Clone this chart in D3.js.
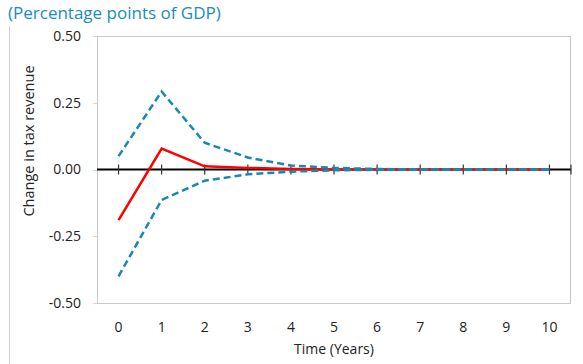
<!DOCTYPE html>
<html>
<head>
<meta charset="utf-8">
<script src="https://cdn.jsdelivr.net/npm/d3@7"></script>
<style>
  body { margin: 0; background: #fff; }
  text { font-family: "Open Sans", "Noto Sans", sans-serif; }
</style>
</head>
<body>
<div id="chart"></div>
<script>
const years = [0, 1, 2, 3, 4, 5, 6, 7, 8, 9, 10];
const central = [-0.19, 0.078, 0.012, 0.006, 0.002, 0.0, 0.0, 0.0, 0.0, 0.0, 0.0];
const upper = [0.05, 0.292, 0.10, 0.045, 0.015, 0.006, 0.002, 0.0, 0.0, 0.0, 0.0];
const lower = [-0.40, -0.114, -0.042, -0.018, -0.008, -0.003, -0.001, 0.0, 0.0, 0.0, 0.0];
const yTicks = [0.5, 0.25, 0, -0.25, -0.5];

const W = 583, H = 364;
const margin = { top: 36, right: 12, bottom: 61, left: 97 };

const svg = d3.select("#chart").append("svg")
    .attr("width", W)
    .attr("height", H);

const x = d3.scaleLinear().domain([-0.5, 10.5]).range([margin.left, W - margin.right]);
const y = d3.scaleLinear().domain([-0.5, 0.5]).range([H - margin.bottom, margin.top]);

// outer frame line on the left
svg.append("line")
    .attr("x1", 9.5).attr("x2", 9.5)
    .attr("y1", 26).attr("y2", H)
    .attr("stroke", "#d0d0d0").attr("stroke-width", 1);

// plot area frame
svg.append("rect")
    .attr("x", margin.left + 0.5)
    .attr("y", margin.top + 0.5)
    .attr("width", W - margin.left - margin.right - 1)
    .attr("height", H - margin.top - margin.bottom)
    .attr("fill", "none")
    .attr("stroke", "#c8c8c8");

svg.append("text")
    .attr("x", 8).attr("y", 19)
    .attr("fill", "#1a8bbf")
    .style("font-size", "17px")
    .text("(Percentage points of GDP)");

// y axis labels
svg.selectAll(".ytick")
    .data(yTicks)
    .enter().append("text")
    .attr("class", "ytick")
    .attr("x", 81)
    .attr("y", d => y(d))
    .attr("dy", "0.35em")
    .attr("text-anchor", "end")
    .attr("fill", "#222")
    .style("font-size", "14px")
    .text(d => d3.format(".2f")(d).replace("\u2212", "-"));

svg.selectAll(".ytickmark")
    .data(yTicks)
    .enter().append("line")
    .attr("x1", margin.left - 4).attr("x2", margin.left)
    .attr("y1", d => Math.round(y(d)) + 0.5).attr("y2", d => Math.round(y(d)) + 0.5)
    .attr("stroke", "#d8d8d8");

// x axis labels
svg.selectAll(".xtick")
    .data(years)
    .enter().append("text")
    .attr("class", "xtick")
    .attr("x", d => x(d))
    .attr("y", 332)
    .attr("text-anchor", "middle")
    .attr("fill", "#222")
    .style("font-size", "14px")
    .text(d => d);

svg.append("text")
    .attr("x", x(5))
    .attr("y", 354)
    .attr("text-anchor", "middle")
    .attr("fill", "#222")
    .style("font-size", "14px")
    .text("Time (Years)");

svg.append("text")
    .attr("transform", "translate(34,141) rotate(-90)")
    .attr("text-anchor", "middle")
    .attr("fill", "#222")
    .style("font-size", "14.5px")
    .text("Change in tax revenue");

// zero line with tick marks
svg.append("line")
    .attr("x1", margin.left).attr("x2", W - margin.right)
    .attr("y1", y(0)).attr("y2", y(0))
    .attr("stroke", "#000").attr("stroke-width", 2);

svg.selectAll(".xtickmark")
    .data(years.concat([10.5]))
    .enter().append("line")
    .attr("x1", d => x(d)).attr("x2", d => x(d))
    .attr("y1", y(0) - 5).attr("y2", y(0) + 5)
    .attr("stroke", "#333").attr("stroke-width", 1.2);

const line = d3.line()
    .x((d, i) => x(years[i]))
    .y(d => y(d));

svg.append("path")
    .datum(central)
    .attr("d", line)
    .attr("fill", "none")
    .attr("stroke", "#ff0000")
    .attr("stroke-width", 2.5);

[upper, lower].forEach(s => {
    svg.append("path")
        .datum(s)
        .attr("d", line)
        .attr("fill", "none")
        .attr("stroke", "#1a87b3")
        .attr("stroke-width", 2.5)
        .attr("stroke-dasharray", "7,4");
});
</script>
</body>
</html>
